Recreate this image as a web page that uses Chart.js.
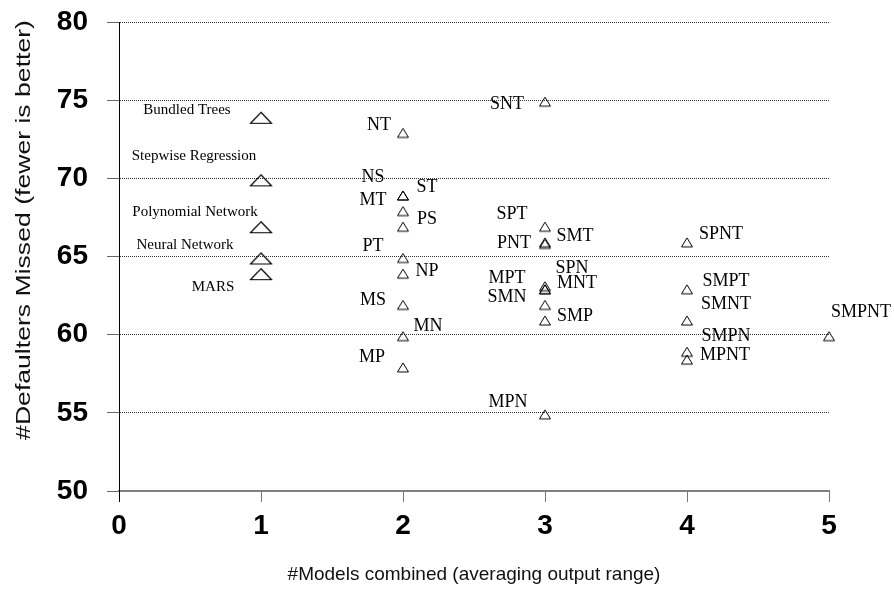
<!DOCTYPE html>
<html>
<head>
<meta charset="utf-8">
<script src="https://cdn.jsdelivr.net/npm/chart.js@4.4.1/dist/chart.umd.min.js"></script>
<style>
  html, body { margin: 0; padding: 0; background: #fff; }
  #wrap { width: 894px; height: 595px; }
</style>
</head>
<body>
<div id="wrap"><canvas id="c" width="894" height="595"></canvas></div>
<script>
// Ensembles grouped by how many models were averaged together.
const singleNames  = ['Bundled Trees', 'Stepwise Regression', 'Polynomial Network', 'Neural Network', 'MARS'];
const singleMissed = [74, 70, 67, 65, 64];

const pairNames  = ['NT', 'NS', 'ST', 'MT', 'PS', 'PT', 'NP', 'MS', 'MN', 'MP'];
const pairMissed = [73, 69, 69, 68, 67, 65, 64, 62, 60, 58];

const tripleNames  = ['SNT', 'SPT', 'SMT', 'PNT', 'SPN', 'MPT', 'MNT', 'SMN', 'SMP', 'MPN'];
const tripleMissed = [75, 67, 66, 65.9, 63.2, 63, 63, 62, 61, 55];

const quadNames  = ['SPNT', 'SMPT', 'SMNT', 'SMPN', 'MPNT'];
const quadMissed = [66, 63, 61, 59, 58.5];

const fiveNames  = ['SMPNT'];
const fiveMissed = [60];

const xTickValues = [0, 1, 2, 3, 4, 5];
const yTickValues = [50, 55, 60, 65, 70, 75, 80];

// Where each name sits relative to its marker (pixel offsets of the text centre).
const singleLabelPos = [[-74, -6], [-67, -22], [-66, -13], [-76, -11], [-48, 15]];
const pairLabelPos   = [[-24, -6], [-30, -17], [24, -7], [-30, -9], [24, -6], [-30, -10], [24, -1], [-30, -3], [25, -8], [-31, -9]];
const tripleLabelPos = [[-38, 4], [-33, -11], [30, -5], [-31, 1], [27, -16], [-38, -10], [32, -5], [-38, -6], [30, -3], [-37, -11]];
const quadLabelPos   = [[34, -7], [39, -7], [39, -15], [39, -14], [38, -3]];
const fiveLabelPos   = [[32, -22]];

// Hollow triangle marker drawn on its own small canvas.
function triangleMarker(w, h, size, drop, lw) {
  const c = document.createElement('canvas');
  c.width = size; c.height = size;
  const g = c.getContext('2d');
  const cx = size / 2, cy = size / 2 + drop;
  g.beginPath();
  g.moveTo(cx, cy - h / 2);
  g.lineTo(cx + w / 2, cy + h / 2);
  g.lineTo(cx - w / 2, cy + h / 2);
  g.closePath();
  g.lineJoin = 'miter';
  g.lineWidth = lw;
  g.strokeStyle = '#000';
  g.stroke();
  return c;
}
const bigTriangle = triangleMarker(21, 11, 28, 2, 1.2);
const smallTriangle = triangleMarker(11, 9, 18, 1.5, 1);

const groups = [
  { count: 1, names: singleNames, values: singleMissed, pos: singleLabelPos, marker: bigTriangle, fontSize: 15 },
  { count: 2, names: pairNames,   values: pairMissed,   pos: pairLabelPos,   marker: smallTriangle, fontSize: 18 },
  { count: 3, names: tripleNames, values: tripleMissed, pos: tripleLabelPos, marker: smallTriangle, fontSize: 18 },
  { count: 4, names: quadNames,   values: quadMissed,   pos: quadLabelPos,   marker: smallTriangle, fontSize: 18 },
  { count: 5, names: fiveNames,   values: fiveMissed,   pos: fiveLabelPos,   marker: smallTriangle, fontSize: 18 }
];

// Names written next to every marker.
const pointLabels = {
  id: 'pointLabels',
  afterDatasetsDraw(chart) {
    const ctx = chart.ctx;
    ctx.save();
    ctx.fillStyle = '#000';
    ctx.textAlign = 'center';
    ctx.textBaseline = 'middle';
    groups.forEach((g, di) => {
      const meta = chart.getDatasetMeta(di);
      ctx.font = g.fontSize + 'px "Liberation Serif", "Times New Roman", serif';
      meta.data.forEach((pt, i) => {
        const [dx, dy] = g.pos[i];
        ctx.fillText(g.names[i], pt.x + dx, pt.y + dy);
      });
    });
    ctx.restore();
  }
};

// Vertical axis caption.
const yCaption = {
  id: 'yCaption',
  afterDraw(chart) {
    const ctx = chart.ctx;
    ctx.save();
    ctx.translate(24, 230);
    ctx.rotate(-Math.PI / 2);
    ctx.scale(1.33, 1);
    ctx.font = '20px "Liberation Sans", Arial, sans-serif';
    ctx.fillStyle = '#111';
    ctx.textAlign = 'center';
    ctx.textBaseline = 'middle';
    ctx.fillText('#Defaulters Missed (fewer is better)', 0, 0);
    ctx.restore();
  }
};

const tickFont = { family: '"Liberation Sans", Arial, sans-serif', size: 28, weight: 'bold' };

new Chart(document.getElementById('c'), {
  type: 'scatter',
  data: {
    datasets: groups.map(g => ({
      data: g.values.map(v => ({ x: g.count, y: v })),
      pointStyle: g.marker,
      pointRadius: 6,
      showLine: false,
      clip: false
    }))
  },
  options: {
    responsive: false,
    animation: false,
    layout: { padding: { left: 0, right: 65, top: 22, bottom: 0 } },
    plugins: { legend: { display: false }, tooltip: { enabled: false } },
    scales: {
      x: {
        type: 'linear',
        min: 0, max: 5,
        afterBuildTicks: s => { s.ticks = xTickValues.map(v => ({ value: v })); },
        afterFit: s => { s.height = 104; s.paddingLeft = 0; s.paddingRight = 0; },
        ticks: { font: tickFont, color: '#000', padding: 7 },
        grid: {
          drawOnChartArea: false,
          drawTicks: true,
          tickLength: 11,
          tickWidth: 1,
          tickColor: c => (c.tick && c.tick.value === 0 ? '#000' : '#777')
        },
        border: { display: true, color: '#808080', width: 2 },
        title: {
          display: true,
          text: '#Models combined (averaging output range)',
          font: { family: '"Liberation Sans", Arial, sans-serif', size: 19 },
          color: '#111',
          padding: { top: 0, bottom: 9 }
        }
      },
      y: {
        min: 50, max: 80,
        afterBuildTicks: s => { s.ticks = yTickValues.map(v => ({ value: v })); },
        afterFit: s => { s.width = 119; s.paddingTop = 0; s.paddingBottom = 0; },
        ticks: { font: tickFont, color: '#000', padding: 19 },
        grid: {
          color: '#333',
          lineWidth: 1,
          tickBorderDash: [],
          tickLength: 12,
          tickColor: '#666',
          tickWidth: 1
        },
        border: { display: true, color: '#000', width: 1, dash: [1, 1] }
      }
    }
  },
  plugins: [pointLabels, yCaption]
});
</script>
</body>
</html>
